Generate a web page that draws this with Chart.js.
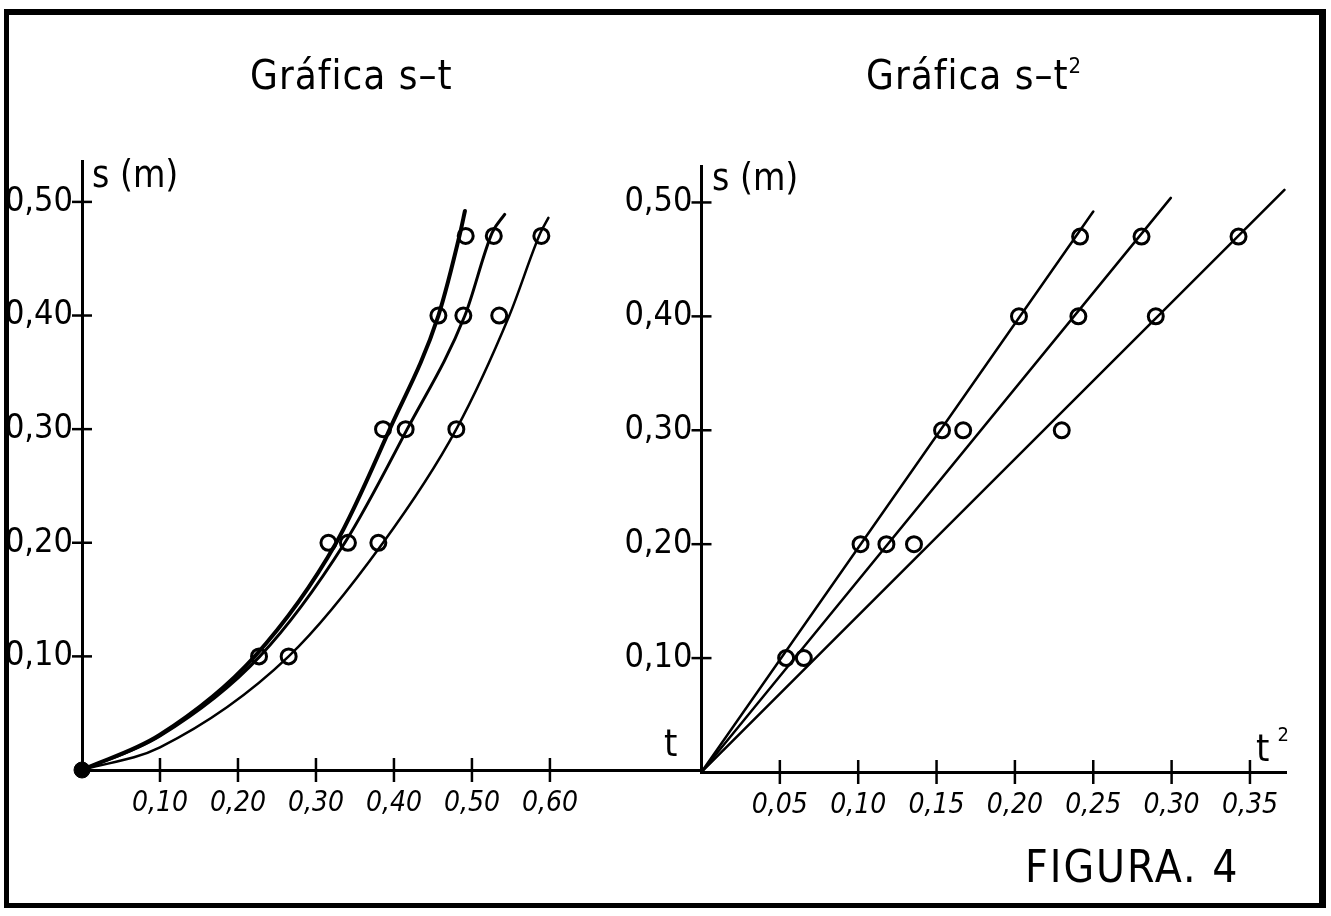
<!DOCTYPE html>
<html>
<head>
<meta charset="utf-8">
<script src="https://cdn.jsdelivr.net/npm/chart.js@4.4.1/dist/chart.umd.min.js"></script>
<style>
  html, body { margin: 0; padding: 0; background: #fff; }
  #page { position: relative; width: 1331px; height: 916px; overflow: hidden; background: #fff;
          font-family: "DejaVu Sans Condensed", "Liberation Sans Narrow", sans-serif; color: #000; }
  #frame { position: absolute; left: 4px; top: 9px; width: 1310px; height: 888px;
           border-top: 6px solid #000; border-left: 5px solid #000; border-right: 7px solid #000; border-bottom: 5px solid #000; }
  canvas { position: absolute; top: 0; }
  #chartLeft { left: 0; }
  #chartRight { left: 620px; }
  .txt { position: absolute; white-space: nowrap; line-height: 1; }
  .title { font-size: 40px; letter-spacing: 1px; }
  .unit { font-size: 37px; }
  .axisname { font-size: 38px; }
</style>
</head>
<body>
<div id="page">
  <div id="frame"></div>
  <canvas id="chartLeft" width="702" height="916"></canvas>
  <canvas id="chartRight" width="711" height="916"></canvas>
  <div class="txt title" style="left:250px; top:55px;">Gráfica s–t</div>
  <div class="txt title" style="left:866px; top:55px;">Gráfica s–t<sup style="font-size:22px; vertical-align:16px;">2</sup></div>
  <div class="txt unit" style="left:92px; top:156px;">s (m)</div>
  <div class="txt unit" style="left:712px; top:159px;">s (m)</div>
  <div class="txt axisname" style="left:664px; top:724px;">t</div>
  <div class="txt axisname" style="left:1256px; top:724px;">t<span style="font-size:20px; vertical-align:20px; margin-left:8px;">2</span></div>
  <div class="txt title" style="left:1025px; top:845px; font-size:44px; letter-spacing:2px;">FIGURA. 4</div>
</div>
<script>
// tick values
const yTicks = [0.10, 0.20, 0.30, 0.40, 0.50];
const tTicks = [0.10, 0.20, 0.30, 0.40, 0.50, 0.60];
const t2Ticks = [0.05, 0.10, 0.15, 0.20, 0.25, 0.30, 0.35];

// measured distances (m)
const sLevels = [0.10, 0.20, 0.30, 0.40, 0.47];

// s-t measured times (s)
const tSerie1 = [0.227, 0.316, 0.386, 0.457, 0.492];
const tSerie2 = [0.227, 0.341, 0.415, 0.489, 0.528];
const tSerie3 = [0.265, 0.380, 0.480, 0.535, 0.589];

// hand drawn s-t curves
const curve1T = [0, 0.10, 0.2215, 0.326, 0.3946, 0.457, 0.485, 0.491];
const curve1S = [0, 0.031, 0.100, 0.200, 0.300, 0.400, 0.473, 0.492];
const curve2T = [0, 0.10, 0.228, 0.337, 0.417, 0.491, 0.526, 0.542];
const curve2S = [0, 0.030, 0.100, 0.200, 0.300, 0.400, 0.473, 0.489];
const curve3T = [0, 0.10, 0.265, 0.386, 0.480, 0.548, 0.588, 0.598];
const curve3S = [0, 0.020, 0.100, 0.200, 0.300, 0.400, 0.473, 0.486];

// s-t2 measured t2 (s2)
const t2Serie1 = [0.054, 0.1015, 0.1535, 0.2026, 0.2416];
const t2Serie2 = [0.0653, 0.118, 0.167, 0.2405, 0.2808];
const t2Serie3 = [0.0653, 0.1356, 0.2299, 0.2899, 0.3427];

// fitted straight lines (start, end)
const line1T2 = [0, 0.250];
const line1S = [0, 0.492];
const line2T2 = [0, 0.2995];
const line2S = [0, 0.504];
const line3T2 = [0, 0.372];
const line3S = [0, 0.511];

const FONT = '"DejaVu Sans Condensed", "Liberation Sans Narrow", sans-serif';

function pts(xs, ys) {
    return xs.map((x, i) => ({ x: x, y: ys[i] }));
}
function fmt(v) {
    return v.toFixed(2).replace('.', ',');
}

function curveSet(xs, ys, w) {
    return {
        type: 'line', data: pts(xs, ys), showLine: true, borderColor: '#000',
        borderWidth: w, pointRadius: 0, cubicInterpolationMode: 'monotone', fill: false,
        borderCapStyle: 'round'
    };
}
function markSet(xs, ys) {
    return {
        type: 'scatter', data: pts(xs, ys), pointRadius: 7.5, pointBorderWidth: 3,
        pointBorderColor: '#000', pointBackgroundColor: 'rgba(255,255,255,0)', showLine: false
    };
}

// tick marks that cross the axis line, like the drawing
const crossTicks = {
    id: 'crossTicks',
    afterDraw(chart) {
        const { ctx, chartArea, scales } = chart;
        ctx.save();
        ctx.strokeStyle = '#000';
        ctx.lineWidth = 2.5;
        scales.x.ticks.forEach(t => {
            const px = scales.x.getPixelForValue(t.value);
            ctx.beginPath();
            ctx.moveTo(px, chartArea.bottom - 12);
            ctx.lineTo(px, chartArea.bottom + 12);
            ctx.stroke();
        });
        scales.y.ticks.forEach(t => {
            const py = scales.y.getPixelForValue(t.value);
            ctx.beginPath();
            ctx.moveTo(chartArea.left - 10, py);
            ctx.lineTo(chartArea.left + 10, py);
            ctx.stroke();
        });
        ctx.restore();
    }
};

function makeOptions(cfg) {
    return {
        responsive: false,
        animation: false,
        events: [],
        layout: { autoPadding: false, padding: { top: cfg.top, left: 0, right: cfg.right, bottom: 0 } },
        plugins: { legend: { display: false }, tooltip: { enabled: false } },
        scales: {
            x: {
                type: 'linear', min: 0, max: cfg.xMax,
                afterBuildTicks: s => { s.ticks = cfg.xTicks.map(v => ({ value: v })); },
                afterFit: s => { s.height = 916 - cfg.bottom; },
                grid: { display: false, drawTicks: false },
                border: { display: true, color: '#000', width: 3 },
                ticks: { padding: 17, color: '#000', callback: fmt,
                         font: { family: FONT, size: 28, style: 'italic' }, maxRotation: 0, autoSkip: false }
            },
            y: {
                type: 'linear', min: 0, max: cfg.yMax,
                afterBuildTicks: s => { s.ticks = yTicks.map(v => ({ value: v })); },
                afterFit: s => { s.width = cfg.left; },
                grid: { display: false, drawTicks: false },
                border: { display: true, color: '#000', width: 3 },
                ticks: { padding: 9, color: '#000', callback: fmt,
                         font: { family: FONT, size: 34 }, autoSkip: false }
            }
        }
    };
}

// left: s-t
new Chart(document.getElementById('chartLeft'), {
    type: 'scatter',
    data: {
        datasets: [
            curveSet(curve1T, curve1S, 4),
            curveSet(curve2T, curve2S, 3),
            curveSet(curve3T, curve3S, 2.5),
            markSet(tSerie1, sLevels),
            markSet(tSerie2.slice(1), sLevels.slice(1)),
            markSet(tSerie3, sLevels),
            { type: 'scatter', data: [{ x: 0, y: 0 }], clip: false, pointRadius: 8,
              pointBackgroundColor: '#000', pointBorderColor: '#000' }
        ]
    },
    options: makeOptions({ top: 161, bottom: 770, left: 82, right: 0, xMax: 0.795, yMax: 0.536, xTicks: tTicks }),
    plugins: [crossTicks]
});

// right: s-t2
new Chart(document.getElementById('chartRight'), {
    type: 'scatter',
    data: {
        datasets: [
            curveSet(line1T2, line1S, 2.5),
            curveSet(line2T2, line2S, 2.5),
            curveSet(line3T2, line3S, 2.5),
            markSet(t2Serie1, sLevels),
            markSet(t2Serie2, sLevels),
            markSet(t2Serie3.slice(1), sLevels.slice(1))
        ]
    },
    options: makeOptions({ top: 166, bottom: 772, left: 81.5, right: 45, xMax: 0.373, yMax: 0.532, xTicks: t2Ticks }),
    plugins: [crossTicks]
});
</script>
</body>
</html>
